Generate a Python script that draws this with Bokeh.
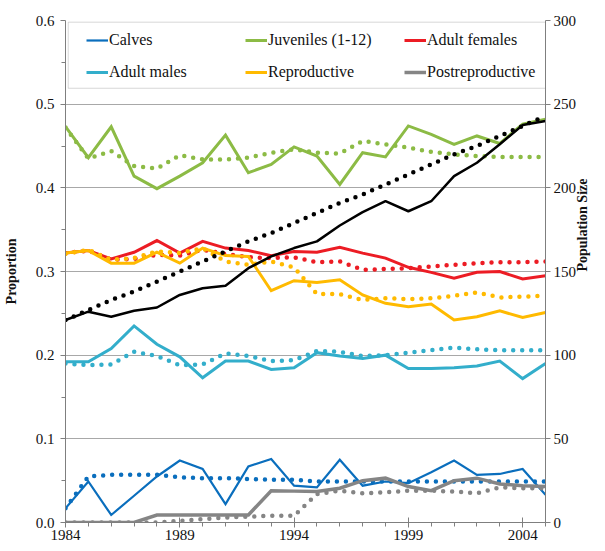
import math
from bokeh.plotting import figure
from bokeh.models import (Range1d, LinearAxis, FixedTicker, Legend, LegendItem,
                          BoxAnnotation, PrintfTickFormatter, Title)
from bokeh.embed import file_html
from bokeh.resources import INLINE

years = list(range(1984, 2006))

calves_obs = [0.017, 0.049, 0.009, 0.032, 0.055, 0.074, 0.064, 0.022, 0.067, 0.076, 0.044,
              0.042, 0.075, 0.044, 0.049, 0.047, 0.060, 0.074, 0.057, 0.058, 0.064, 0.033]
calves_pred = [0.017, 0.055, 0.057, 0.057, 0.057, 0.054, 0.053, 0.053, 0.052, 0.051, 0.051,
               0.049, 0.049, 0.049, 0.049, 0.049, 0.049, 0.049, 0.049, 0.049, 0.049, 0.049]
juv_obs = [0.473, 0.436, 0.473, 0.414, 0.399, 0.414, 0.430, 0.463, 0.418, 0.428, 0.449,
           0.438, 0.404, 0.442, 0.437, 0.474, 0.464, 0.452, 0.462, 0.453, 0.476, 0.482]
juv_pred = [0.472, 0.435, 0.444, 0.426, 0.423, 0.439, 0.434, 0.434, 0.436, 0.442, 0.446,
            0.442, 0.441, 0.456, 0.452, 0.448, 0.443, 0.440, 0.438, 0.437, 0.437, 0.437]
females_obs = [0.322, 0.325, 0.315, 0.323, 0.337, 0.322, 0.336, 0.328, 0.325, 0.319, 0.324,
               0.323, 0.329, 0.322, 0.316, 0.305, 0.299, 0.292, 0.299, 0.300, 0.291, 0.295]
females_pred = [0.322, 0.325, 0.314, 0.315, 0.320, 0.319, 0.326, 0.321, 0.317, 0.316, 0.317,
                0.311, 0.312, 0.302, 0.303, 0.304, 0.306, 0.308, 0.310, 0.311, 0.311, 0.312]
males_obs = [0.192, 0.192, 0.208, 0.235, 0.213, 0.198, 0.173, 0.193, 0.193, 0.183, 0.185,
             0.203, 0.199, 0.196, 0.200, 0.184, 0.184, 0.185, 0.187, 0.193, 0.172, 0.190]
males_pred = [0.190, 0.188, 0.189, 0.204, 0.199, 0.188, 0.189, 0.202, 0.199, 0.193, 0.194,
              0.205, 0.204, 0.199, 0.200, 0.203, 0.206, 0.209, 0.207, 0.206, 0.206, 0.206]
repro_obs = [0.322, 0.325, 0.310, 0.310, 0.323, 0.310, 0.328, 0.319, 0.318, 0.277, 0.289,
             0.287, 0.290, 0.272, 0.262, 0.258, 0.261, 0.242, 0.246, 0.253, 0.245, 0.251]
repro_pred = [0.321, 0.326, 0.314, 0.316, 0.324, 0.322, 0.328, 0.312, 0.308, 0.312, 0.305,
              0.273, 0.273, 0.266, 0.268, 0.267, 0.268, 0.271, 0.275, 0.269, 0.270, 0.271]
post_obs = [0.0, 0.0, 0.0, 0.0, 0.009, 0.009, 0.009, 0.009, 0.009, 0.038, 0.0375,
            0.037, 0.041, 0.050, 0.053, 0.043, 0.038, 0.050, 0.053, 0.046, 0.044, 0.043]
post_pred = [0.0, 0.0, 0.0, 0.0, 0.0, 0.002, 0.004, 0.006, 0.007, 0.008, 0.008,
             0.034, 0.038, 0.035, 0.036, 0.038, 0.038, 0.037, 0.035, 0.042, 0.041, 0.041]
pop_obs = [121, 126, 123, 126.5, 128.5, 136, 140, 141.5, 152, 159, 164,
           168, 177.5, 185.5, 192, 186, 192, 207, 215, 226, 237.5, 240]
pop_pred = [121, 127, 133, 138, 144, 150, 156, 162, 168, 173, 179,
            185, 191, 196, 202, 208, 214, 220, 225, 231, 237, 243]

series = [
    ("Calves", "#0A6EBD", calves_obs, calves_pred, 2.2),
    ("Juveniles (1-12)", "#8CBB45", juv_obs, juv_pred, 3),
    ("Adult females", "#EC1C24", females_obs, females_pred, 3),
    ("Adult males", "#33AECB", males_obs, males_pred, 3),
    ("Reproductive", "#FFBA00", repro_obs, repro_pred, 3),
    ("Postreproductive", "#858585", post_obs, post_pred, 3.5),
]

x_major = [1984, 1989, 1994, 1999, 2004]
y_major = [0.0, 0.1, 0.2, 0.3, 0.4, 0.5, 0.6]
y_minor = [0.05, 0.15, 0.25, 0.35, 0.45, 0.55]
pop_major = [0, 50, 100, 150, 200, 250, 300]

FONT = "Liberation Serif"
FW, FH = 480, 502

p = figure(frame_width=FW, frame_height=FH, output_backend="svg", toolbar_location=None,
           x_range=Range1d(1984, 2005), y_range=Range1d(0, 0.6),
           min_border_top=20, min_border_left=59, min_border_right=50, min_border_bottom=27)
p.outline_line_color = None
p.background_fill_color = "white"
p.extra_y_ranges = {"pop": Range1d(0, 300)}

# axes
xa = p.xaxis[0]
xa.ticker = FixedTicker(ticks=x_major, minor_ticks=years)
ya = p.yaxis[0]
ya.ticker = FixedTicker(ticks=y_major, minor_ticks=y_minor)
ya.formatter = PrintfTickFormatter(format="%.1f")
ya.axis_label = "Proportion"
ra = LinearAxis(y_range_name="pop", ticker=FixedTicker(ticks=pop_major, minor_ticks=[]))
p.add_layout(ra, "right")

for ax in (xa, ya, ra):
    ax.axis_line_color = "#7f7f7f"
    ax.major_tick_line_color = "#7f7f7f"
    ax.minor_tick_line_color = "#7f7f7f"
    ax.major_label_text_font = FONT
    ax.major_label_text_font_size = "15px"
    ax.major_label_text_color = "#111111"
    ax.axis_label_text_font = FONT
    ax.axis_label_text_font_size = "14px"
    ax.axis_label_text_font_style = "bold"
    ax.axis_label_text_color = "#111111"
    ax.major_tick_in = 0
    ax.major_tick_out = 5
    ax.minor_tick_in = 0
    ax.minor_tick_out = 4
xa.major_tick_in = 5
xa.major_label_standoff = 2
ya.major_label_standoff = 6
ra.major_label_standoff = 3
ya.axis_label_standoff = 14

# right-side axis title, reading bottom-to-top like the left one
if "axis_label_orientation" in ra.properties():
    ra.axis_label = "Population Size"
    ra.axis_label_standoff = 3
    ra.axis_label_orientation = math.pi / 2
else:
    p.add_layout(Title(text="Population Size", align="center", text_font=FONT,
                       text_font_size="14px", text_font_style="bold",
                       text_color="#111111"), "right")

p.xgrid.visible = False
p.ygrid.ticker = FixedTicker(ticks=y_major)
p.ygrid.grid_line_color = "#a8a8a8"
p.ygrid.grid_line_width = 1

# lines
legend_items = []
for name, color, obs, pred, lw in series:
    p.line(years, pred, line_color=color, line_width=4.5, line_dash="0 9",
           line_cap="round")
    r = p.line(years, obs, line_color=color, line_width=lw, line_join="miter")
    legend_items.append(LegendItem(label=name, renderers=[r]))

p.line(years, pop_pred, y_range_name="pop", line_color="black", line_width=4.5,
       line_dash="0 9", line_cap="round")
p.line(years, pop_obs, y_range_name="pop", line_color="black", line_width=2.5)

# legend frame
box = BoxAnnotation(left=1984.12, right=2005, top=0.598, bottom=0.519,
                    fill_alpha=0, line_color="#7f7f7f", line_width=1)
p.add_layout(box)

cols = [[legend_items[0], legend_items[3]],
        [legend_items[1], legend_items[4]],
        [legend_items[2], legend_items[5]]]
col_x = [21, 180, 339]
for items, cx in zip(cols, col_x):
    lg = Legend(items=items, location=(cx, FH - 62), orientation="vertical",
                border_line_color=None, background_fill_alpha=0,
                padding=0, margin=0, spacing=12, glyph_width=22, glyph_height=20,
                label_height=20, label_standoff=1,
                label_text_font=FONT, label_text_font_size="16px",
                label_text_color="#111111")
    p.add_layout(lg)

open("out.html", "w").write(file_html(p, INLINE))
